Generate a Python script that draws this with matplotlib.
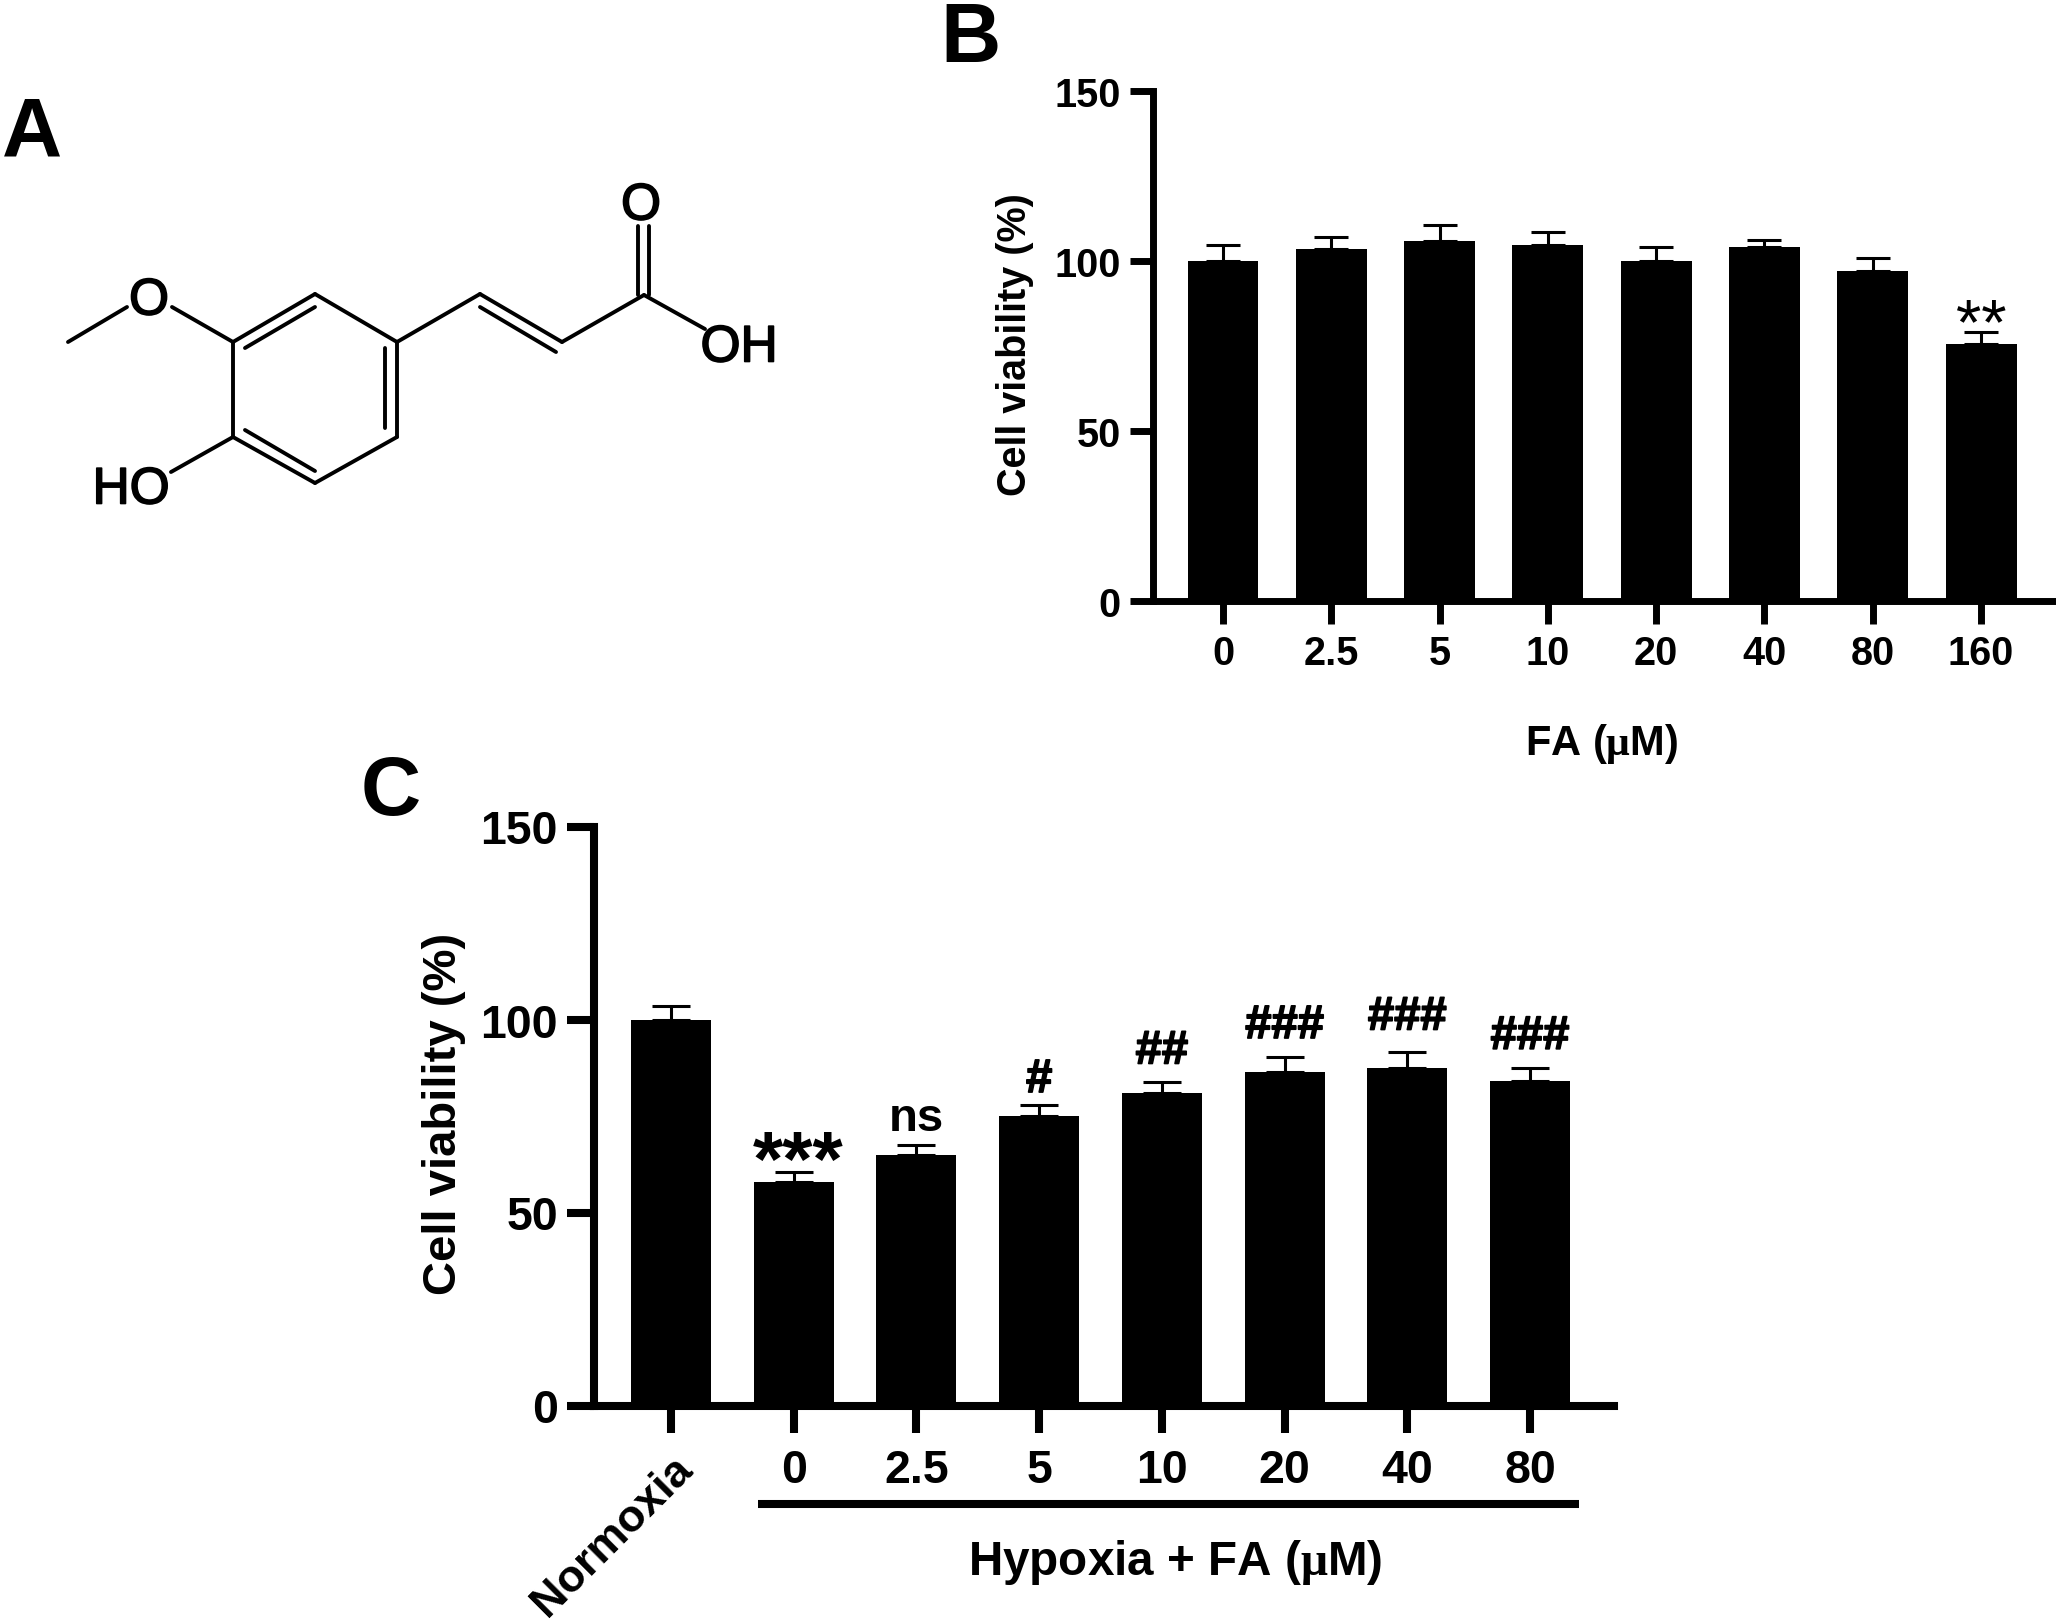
# -*- coding: utf-8 -*-
import numpy as np
from matplotlib import pyplot as plt
from matplotlib import patheffects as pe

plt.rcParams['font.family'] = ['Liberation Sans', 'DejaVu Sans']
plt.rcParams['font.weight'] = 'bold'
# the mu in the reference is a serif letter
plt.rcParams['mathtext.fontset'] = 'custom'
plt.rcParams['mathtext.rm'] = 'Liberation Serif:bold'
plt.rcParams['mathtext.it'] = 'Liberation Serif:bold'
plt.rcParams['mathtext.bf'] = 'Liberation Serif:bold'

W, H = 2056, 1624

# panel B data
b_labels = ['0', '2.5', '5', '10', '20', '40', '80', '160']
b_values = [100, 103.5, 105.8, 104.7, 100, 104, 97, 75.5]
b_errors = [4.7, 3.4, 4.7, 3.7, 4.0, 2.2, 3.8, 3.5]
b_stars = ['', '', '', '', '', '', '', '**']
b_star_y = [0, 0, 0, 0, 0, 0, 0, 75.8]

# panel C data
c_labels = ['Normoxia', '0', '2.5', '5', '10', '20', '40', '80']
c_values = [100, 58, 65, 75, 81, 86.5, 87.5, 84]
c_errors = [3.4, 2.5, 2.5, 2.8, 2.8, 3.8, 4.2, 3.5]
c_sig = ['', '***', 'ns', '#', '##', '###', '###', '###']
c_sig_y = [0, 57.2, 71.5, 81.2, 88.6, 95.2, 97.4, 92.4]

yticks = [0, 50, 100, 150]

# panel A structure, in image pixels
bonds = [
    ((68, 343), (127, 308)), ((172, 308), (233, 343)),
    ((233, 343), (315, 295)), ((315, 295), (397, 343)), ((397, 343), (397, 438)),
    ((397, 438), (315, 484)), ((315, 484), (233, 438)), ((233, 438), (233, 343)),
    ((245, 349), (315, 308)), ((385, 349), (385, 429)), ((245, 431), (315, 472)),
    ((397, 343), (480, 295)), ((480, 295), (562, 343)), ((562, 343), (644, 296)),
    ((480, 308), (556, 353)),
    ((638, 296), (638, 227)), ((649, 296), (649, 227)),
    ((644, 296), (705, 330)), ((233, 438), (171, 473)),
]
atoms = [('O', 149, 302), ('O', 641, 207), ('OH', 739, 349), ('HO', 131, 491)]


def make_axes(left, right, top, bottom):
    return fig.add_axes([left / W, 1 - bottom / H, (right - left) / W, (bottom - top) / H])


def bar_panel(ax, labels, values, errors, width, cap, lw, ticklen, fs, pad):
    x = np.arange(len(values))
    ax.bar(x, values, width=width, color='k')
    ax.errorbar(x, values, yerr=[np.zeros(len(errors)), errors], fmt='none', ecolor='k',
                elinewidth=2.2, capsize=cap, capthick=2.2)
    ax.set_ylim(0, 150)
    ax.set_yticks(yticks)
    ax.set_xticks(x)
    ax.set_xticklabels(labels)
    ax.tick_params(axis='both', width=lw, length=ticklen, labelsize=fs)
    ax.tick_params(axis='x', pad=pad)
    ax.tick_params(axis='y', pad=6.5)
    ax.spines['top'].set_visible(False)
    ax.spines['right'].set_visible(False)
    ax.spines['left'].set_linewidth(lw)
    ax.spines['bottom'].set_linewidth(lw)
    ax.patch.set_visible(False)


fig = plt.figure(figsize=(W / 100, H / 100), dpi=100, facecolor='w')

# overlay in pixel coordinates for letters, structure and group labels
ov = fig.add_axes([0, 0, 1, 1])
ov.set_xlim(0, W)
ov.set_ylim(H, 0)
ov.axis('off')

ov.text(2, 156, 'A', fontsize=60, ha='left', va='baseline')
ov.text(940, 62, 'B', fontsize=60, ha='left', va='baseline')
ov.text(361, 815, 'C', fontsize=60, ha='left', va='baseline')

for p, q in bonds:
    ov.plot([p[0], q[0]], [p[1], q[1]], color='k', lw=2.8, solid_capstyle='round')
thicker = [pe.withStroke(linewidth=1.2, foreground='k')]
for name, ax_, ay_ in atoms:
    ov.text(ax_, ay_, name, fontsize=37, fontweight='normal', ha='center', va='center',
            path_effects=thicker)

# panel B
axb = make_axes(1152.5, 2056, 91.5, 602)
axb.set_xlim(-0.651, 7.692)
bar_panel(axb, b_labels, b_values, b_errors, 0.655, 12.2, 5, 16.5, 28.5, 7.5)
axb.set_ylabel('Cell viability (%)', fontsize=28.5, fontweight='bold', va='center')
axb.yaxis.set_label_coords(1015 / W, 1 - 345 / H, transform=fig.transFigure)
for i, s in enumerate(b_stars):
    if s:
        axb.text(i, b_star_y[i], s, fontsize=47, fontweight='normal', ha='center', va='baseline')
ov.text(1601, 755, r'FA ($\mu$M)', fontsize=30, ha='center', va='baseline')

# panel C
axc = make_axes(594, 1614, 827.5, 1406.5)
axc.set_xlim(-0.628, 7.685)
bar_panel(axc, c_labels, c_values, c_errors, 0.652, 14, 5.8, 19.5, 33.5, 11)
axc.set_ylabel('Cell viability (%)', fontsize=34, fontweight='bold', va='center')
axc.yaxis.set_label_coords(444 / W, 1 - 1114 / H, transform=fig.transFigure)
norm = axc.get_xticklabels()[0]
norm.set_fontsize(32.5)
norm.set_rotation(45)
norm.set_ha('right')
norm.set_rotation_mode('anchor')
for i, s in enumerate(c_sig):
    if s:
        fs = 56 if s.startswith('*') else 34
        off = 0.04 if s.startswith('*') else 0
        t = axc.text(i + off, c_sig_y[i], s, fontsize=fs, ha='center', va='baseline')
        if s.startswith('#'):
            t.set_path_effects(thicker)
ov.plot([758, 1579], [1505, 1505], color='k', lw=5.8, solid_capstyle='butt')
ov.text(1175, 1575, r'Hypoxia + FA ($\mu$M)', fontsize=34.3, ha='center', va='baseline')

fig.savefig('out.png', dpi=100)
